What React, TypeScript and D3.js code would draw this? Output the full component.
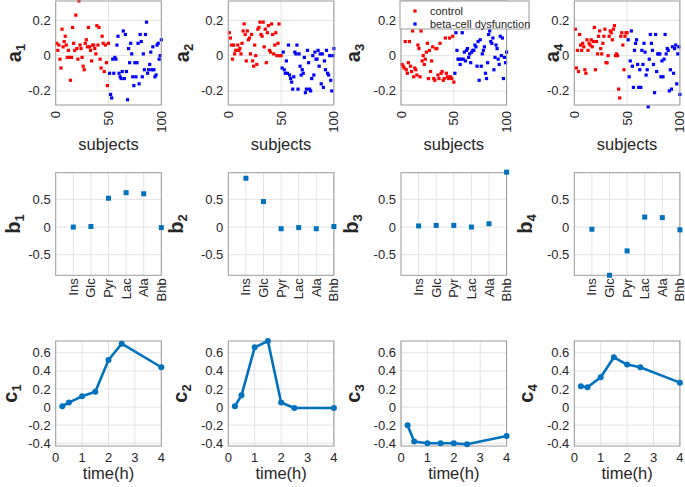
import * as React from "react";
import * as d3 from "d3";

// ---- data ----
const a1Control = [0.07, 0.03, 0.06, -0.02, -0.07, 0.15, 0.05, 0.08, 0.11, 0.06, -0.01, 0.03, -0.01, -0.14, -0.01, 0.16, 0.07, 0.03, 0.23, 0.04, -0.02, 0.31, 0.06, 0.04, -0.01, -0.06, -0.08, 0.07, 0.09, 0.05, 0.16, 0.05, 0.03, -0.03, 0.06, 0.06, 0.04, 0.01, 0.17, 0.06, 0.16, -0.02, -0.07, 0.11, 0.07, -0.09, 0.06, -0.04, -0.17, 0.07];
const a1Beta = [-0.1, -0.22, -0.24, -0.02, -0.1, -0.01, -0.02, 0.06, 0.11, -0.1, -0.12, -0.13, -0.09, 0.14, -0.13, 0.12, -0.09, -0.25, 0.04, -0.04, 0.07, 0.01, -0.12, -0.17, -0.04, -0.12, -0.04, 0.07, -0.16, 0.12, 0.08, -0.12, 0.01, -0.08, 0.12, 0.19, -0.1, -0.08, -0.05, 0.02, -0.08, 0.05, -0.08, -0.12, -0.11, 0.06, 0.07, -0.02, 0.0, 0.09];
const a2Control = [0.13, 0.1, 0.06, -0.02, 0.06, 0.01, 0.03, 0.03, 0.06, 0.03, 0.04, 0.01, 0.07, 0.14, 0.18, 0.12, -0.03, 0.14, 0.09, 0.1, 0.01, 0.12, -0.03, -0.06, 0.06, 0.0, -0.05, 0.15, 0.16, 0.19, 0.12, 0.11, 0.19, 0.05, 0.15, -0.04, 0.13, 0.17, 0.03, 0.02, 0.18, 0.12, 0.01, 0.06, 0.13, 0.0, 0.07, 0.18, 0.0, 0.0];
const a2Beta = [-0.07, 0.02, -0.08, -0.1, -0.03, -0.1, 0.06, -0.11, -0.13, -0.15, -0.19, -0.12, 0.02, 0.01, 0.06, -0.19, 0.01, -0.06, -0.11, -0.08, -0.1, -0.01, -0.21, -0.19, 0.03, -0.04, -0.19, -0.2, -0.13, 0.0, -0.11, 0.02, -0.02, -0.02, 0.03, -0.06, 0.01, -0.16, 0.01, -0.18, -0.03, -0.08, 0.03, -0.1, -0.11, 0.0, -0.14, -0.2, 0.0, 0.04];
const a3Control = [-0.05, -0.06, -0.07, 0.08, -0.08, -0.1, -0.04, 0.08, -0.06, -0.09, 0.14, -0.12, -0.07, -0.08, -0.11, 0.06, 0.04, -0.12, 0.14, -0.03, 0.0, -0.05, -0.02, 0.02, 0.07, -0.13, 0.03, -0.09, -0.03, 0.05, -0.13, -0.14, 0.04, 0.04, -0.11, -0.13, 0.07, -0.1, -0.09, -0.14, -0.13, 0.1, -0.1, -0.12, -0.13, 0.1, -0.12, -0.13, 0.11, -0.15];
const a3Beta = [-0.1, 0.13, 0.03, -0.02, -0.02, -0.05, -0.02, 0.13, -0.02, 0.02, -0.03, 0.03, 0.04, -0.01, 0.01, -0.04, 0.02, 0.03, 0.03, 0.06, 0.05, -0.06, 0.08, -0.14, 0.09, -0.06, 0.01, 0.03, 0.05, -0.1, -0.13, -0.04, 0.12, 0.14, 0.08, 0.07, 0.1, -0.08, -0.01, 0.06, 0.04, -0.02, -0.05, 0.11, 0.0, 0.1, -0.13, -0.01, -0.04, 0.02];
const a4Control = [0.15, -0.07, 0.03, -0.09, 0.12, 0.06, 0.03, 0.07, 0.05, -0.08, -0.1, 0.09, 0.03, 0.07, 0.06, 0.09, 0.05, 0.08, 0.16, -0.08, 0.08, 0.01, 0.11, 0.14, 0.04, 0.01, 0.07, 0.11, 0.15, -0.04, -0.04, 0.0, 0.11, 0.14, 0.13, 0.09, 0.15, 0.17, 0.0, 0.01, 0.0, -0.19, -0.24, 0.11, 0.13, 0.06, -0.08, 0.11, 0.13, 0.13];
const a4Beta = [0.09, -0.12, -0.03, 0.14, -0.06, -0.18, 0.03, 0.07, 0.09, -0.05, -0.18, -0.08, -0.18, 0.03, -0.05, 0.07, 0.02, -0.11, -0.08, -0.29, -0.02, 0.12, 0.07, 0.03, -0.05, -0.21, 0.12, -0.09, 0.01, 0.01, 0.01, -0.12, -0.03, -0.12, -0.02, 0.12, 0.01, 0.04, 0.03, -0.2, -0.08, -0.19, 0.05, -0.1, 0.04, 0.06, -0.16, 0.01, 0.05, -0.22];

const metabolites = ["Ins", "Glc", "Pyr", "Lac", "Ala", "Bhb"];
const b1 = [0.0, 0.01, 0.52, 0.62, 0.6, -0.01];
const b2 = [0.88, 0.46, -0.03, -0.01, -0.03, 0.01];
const b3 = [0.02, 0.03, 0.03, 0.0, 0.06, 0.99];
const b4 = [-0.04, -0.87, -0.43, 0.18, 0.17, -0.05];

const times = [0.25, 0.5, 1, 1.5, 2, 2.5, 4];
const c1 = [0.01, 0.05, 0.12, 0.17, 0.52, 0.7, 0.44];
const c2 = [0.01, 0.13, 0.66, 0.73, 0.05, -0.01, -0.01];
const c3 = [-0.2, -0.38, -0.4, -0.4, -0.4, -0.41, -0.32];
const c4 = [0.23, 0.22, 0.33, 0.55, 0.47, 0.44, 0.27];

const aTicksX = [0, 50, 100];
const aTicksY = [-0.2, 0, 0.2];
const aTickLabelsY = ["-0.2", "0", "0.2"];
const bTicksY = [-0.5, 0, 0.5];
const bTickLabelsY = ["-0.5", "0", "0.5"];
const cTicksX = [0, 1, 2, 3, 4];
const cTicksY = [-0.4, -0.2, 0, 0.2, 0.4, 0.6];
const cTickLabelsY = ["-0.4", "-0.2", "0", "0.2", "0.4", "0.6"];

const legendItems = ["control", "beta-cell dysfunction"];

// ---- layout ----
const W = 685;
const H = 487;
const COLS = [55.7, 228.3, 401, 574.3];
const PW = 105.6;
const ROW_A = { top: 1, bottom: 105 };
const ROW_B = { top: 172.7, bottom: 275.3 };
const ROW_C = { top: 341, bottom: 446 };
const YLAB_OFF = {
  a: [35, 39.3, 41, 15.5],
  b: [35.7, 45.3, 43, 42.3],
  c: [38.5, 41.3, 41, 41.3],
};

const FONT = "'Liberation Sans', Arial, Helvetica, sans-serif";
const TXT = "#262626";
const GRID = "#e3e3e3";
const BOX = "#9a9a9a";
const RED = "#ff0000";
const BLUE = "#0000ff";
const MBLUE = "#0072bd";

function YLabel({ x, y, letter, idx }: { x: number; y: number; letter: string; idx: number }) {
  return (
    <text
      transform={`translate(${x},${y}) rotate(-90)`}
      textAnchor="middle"
      fontFamily={FONT}
      fontWeight="bold"
      fontSize={20}
      fill={TXT}
    >
      {letter}
      <tspan fontSize={13} dy={4}>
        {idx}
      </tspan>
    </text>
  );
}

function Frame({ left, top, bottom }: { left: number; top: number; bottom: number }) {
  return (
    <rect x={left} y={top} width={PW} height={bottom - top} fill="none" stroke={BOX} strokeWidth={1} />
  );
}

function ScatterPanel({ col, ctrl, beta }: { col: number; ctrl: number[]; beta: number[] }) {
  const left = COLS[col];
  const x = d3.scaleLinear().domain([0, 100]).range([left, left + PW]);
  const y = d3.scaleLinear().domain([-0.28, 0.31]).range([ROW_A.bottom, ROW_A.top]);
  const s = 3.2;
  return (
    <g>
      {aTicksX.map((t) => (
        <line key={"gx" + t} x1={x(t)} x2={x(t)} y1={ROW_A.top} y2={ROW_A.bottom} stroke={GRID} />
      ))}
      {aTicksY.map((t) => (
        <line key={"gy" + t} x1={left} x2={left + PW} y1={y(t)} y2={y(t)} stroke={GRID} />
      ))}
      {ctrl.map((v, i) => (
        <rect key={"r" + i} x={x(i + 1) - s / 2} y={y(v) - s / 2} width={s} height={s} fill={RED} />
      ))}
      {beta.map((v, i) => (
        <rect key={"b" + i} x={x(i + 51) - s / 2} y={y(v) - s / 2} width={s} height={s} fill={BLUE} />
      ))}
      <Frame left={left} top={ROW_A.top} bottom={ROW_A.bottom} />
      {aTicksY.map((t, i) => (
        <text key={"ty" + t} x={left - 5} y={y(t)} dy="0.35em" textAnchor="end" fontFamily={FONT} fontSize={13} fill={TXT}>
          {aTickLabelsY[i]}
        </text>
      ))}
      {aTicksX.map((t) => (
        <text
          key={"tx" + t}
          transform={`translate(${x(t)},${ROW_A.bottom + 6}) rotate(-90)`}
          dy="0.35em"
          textAnchor="end"
          fontFamily={FONT}
          fontSize={13}
          fill={TXT}
        >
          {t}
        </text>
      ))}
      <text x={left + PW / 2} y={150} textAnchor="middle" fontFamily={FONT} fontSize={16.5} fill={TXT}>
        subjects
      </text>
      <YLabel x={left - YLAB_OFF.a[col]} y={(ROW_A.top + ROW_A.bottom) / 2} letter="a" idx={col + 1} />
    </g>
  );
}

function DotPanel({ col, vals }: { col: number; vals: number[] }) {
  const left = COLS[col];
  const x = d3.scaleLinear().domain([0, 6]).range([left, left + PW]);
  const y = d3.scaleLinear().domain([-0.87, 0.98]).range([ROW_B.bottom, ROW_B.top]);
  const s = 5;
  return (
    <g>
      {metabolites.map((m, i) => (
        <line key={"gx" + m} x1={x(i + 1)} x2={x(i + 1)} y1={ROW_B.top} y2={ROW_B.bottom} stroke={GRID} />
      ))}
      {bTicksY.map((t) => (
        <line key={"gy" + t} x1={left} x2={left + PW} y1={y(t)} y2={y(t)} stroke={GRID} />
      ))}
      <Frame left={left} top={ROW_B.top} bottom={ROW_B.bottom} />
      {vals.map((v, i) => (
        <rect key={"m" + i} x={x(i + 1) - s / 2} y={y(v) - s / 2} width={s} height={s} fill={MBLUE} />
      ))}
      {bTicksY.map((t, i) => (
        <text key={"ty" + t} x={left - 5} y={y(t)} dy="0.35em" textAnchor="end" fontFamily={FONT} fontSize={13} fill={TXT}>
          {bTickLabelsY[i]}
        </text>
      ))}
      {metabolites.map((m, i) => (
        <text
          key={"tx" + m}
          transform={`translate(${x(i + 1)},${ROW_B.bottom + 3}) rotate(-90)`}
          dy="0.35em"
          textAnchor="end"
          fontFamily={FONT}
          fontSize={13}
          fill={TXT}
        >
          {m}
        </text>
      ))}
      <YLabel x={left - YLAB_OFF.b[col]} y={(ROW_B.top + ROW_B.bottom) / 2} letter="b" idx={col + 1} />
    </g>
  );
}

function LinePanel({ col, vals }: { col: number; vals: number[] }) {
  const left = COLS[col];
  const x = d3.scaleLinear().domain([0, 4]).range([left, left + PW]);
  const y = d3.scaleLinear().domain([-0.43, 0.73]).range([ROW_C.bottom, ROW_C.top]);
  const line = d3
    .line<number>()
    .x((d, i) => x(times[i]))
    .y((d) => y(d));
  return (
    <g>
      {cTicksX.map((t) => (
        <line key={"gx" + t} x1={x(t)} x2={x(t)} y1={ROW_C.top} y2={ROW_C.bottom} stroke={GRID} />
      ))}
      {cTicksY.map((t) => (
        <line key={"gy" + t} x1={left} x2={left + PW} y1={y(t)} y2={y(t)} stroke={GRID} />
      ))}
      <Frame left={left} top={ROW_C.top} bottom={ROW_C.bottom} />
      <path d={line(vals) || ""} fill="none" stroke={MBLUE} strokeWidth={2.6} strokeLinejoin="round" />
      {vals.map((v, i) => (
        <circle key={"p" + i} cx={x(times[i])} cy={y(v)} r={3} fill={MBLUE} />
      ))}
      {cTicksY.map((t, i) => (
        <text key={"ty" + t} x={left - 5} y={y(t)} dy="0.35em" textAnchor="end" fontFamily={FONT} fontSize={13} fill={TXT}>
          {cTickLabelsY[i]}
        </text>
      ))}
      {cTicksX.map((t) => (
        <text key={"tx" + t} x={x(t)} y={461.5} textAnchor="middle" fontFamily={FONT} fontSize={13} fill={TXT}>
          {t}
        </text>
      ))}
      <text x={left + PW / 2} y={479} textAnchor="middle" fontFamily={FONT} fontSize={16.5} fill={TXT}>
        time(h)
      </text>
      <YLabel x={left - YLAB_OFF.c[col]} y={(ROW_C.top + ROW_C.bottom) / 2} letter="c" idx={col + 1} />
    </g>
  );
}

function Legend() {
  const lx = 400;
  const ly = 1;
  const colors = [RED, BLUE];
  const rows = [11, 24];
  return (
    <g>
      <rect x={lx} y={ly} width={129} height={28} fill="#fff" stroke={BOX} strokeWidth={1} />
      {legendItems.map((name, i) => (
        <g key={name}>
          <rect x={415 - 1.6} y={rows[i] - 1.6} width={3.2} height={3.2} fill={colors[i]} />
          <text x={430} y={rows[i]} dy="0.35em" fontFamily={FONT} fontSize={11} fill={TXT}>
            {name}
          </text>
        </g>
      ))}
    </g>
  );
}

export default function App() {
  const aCtrl = [a1Control, a2Control, a3Control, a4Control];
  const aBeta = [a1Beta, a2Beta, a3Beta, a4Beta];
  const bVals = [b1, b2, b3, b4];
  const cVals = [c1, c2, c3, c4];
  return (
    <svg
      width={W}
      height={H}
      style={{ position: "absolute", left: 0, top: 0, background: "#fff" }}
    >
      {COLS.map((_, i) => (
        <ScatterPanel key={"a" + i} col={i} ctrl={aCtrl[i]} beta={aBeta[i]} />
      ))}
      {COLS.map((_, i) => (
        <DotPanel key={"b" + i} col={i} vals={bVals[i]} />
      ))}
      {COLS.map((_, i) => (
        <LinePanel key={"c" + i} col={i} vals={cVals[i]} />
      ))}
      <Legend />
    </svg>
  );
}
